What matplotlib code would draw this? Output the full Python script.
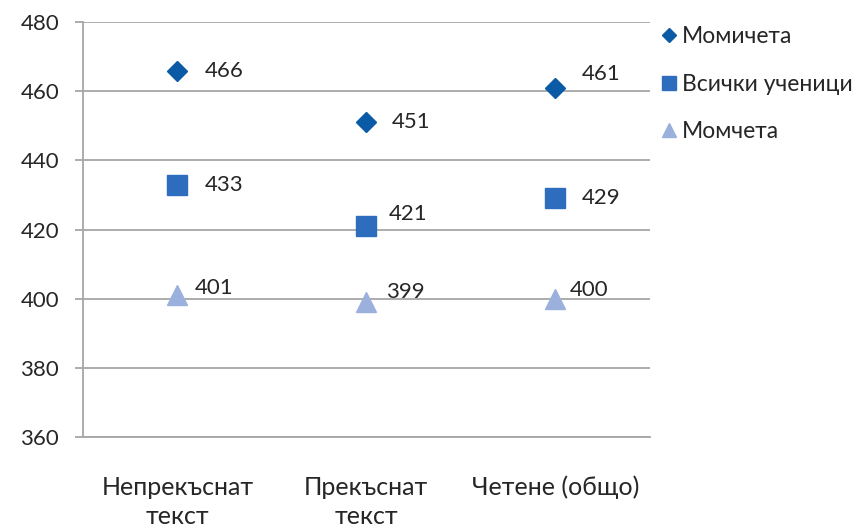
import matplotlib.pyplot as plt

# Данни
categories = ["Непрекъснат\nтекст", "Прекъснат\nтекст", "Четене (общо)"]
girls = [466, 451, 461]
all_students = [433, 421, 429]
boys = [401, 399, 400]

plt.rcParams["font.family"] = ["Lato", "DejaVu Sans"]
text_color = "#262626"
grid_color = "#a6a6a6"

fig = plt.figure(figsize=(8.63, 5.29), dpi=100)
ax = fig.add_axes([0.096, 0.174, 0.657, 0.784])

x = list(range(len(categories)))
ax.plot(x, girls, "D", color="#0b5aa6", ms=10.5, label="Момичета", zorder=3)
ax.plot(x, all_students, "s", color="#2e6cbd", ms=14.5, label="Всички ученици", zorder=3)
ax.plot(x, boys, "^", color="#9bb0dc", ms=15, label="Момчета", zorder=3)

# отместване на етикетите (пиксели)
offsets = {
    "girls": [(27, 0), (25, 0), (26, 14)],
    "all": [(27, 0), (22, 12), (26, 0)],
    "boys": [(17, 7), (20, 10), (14, 9)],
}
for key, vals in (("girls", girls), ("all", all_students), ("boys", boys)):
    for i, v in enumerate(vals):
        ax.annotate(str(v), (i, v), xytext=offsets[key][i], textcoords="offset pixels",
                    ha="left", va="center", fontsize=16, color=text_color)

ax.set_xlim(-0.5, 2.5)
ax.set_ylim(360, 480)
ax.set_yticks(range(360, 481, 20))
ax.set_xticks(x)
ax.set_xticklabels(categories, fontsize=18, color=text_color, linespacing=1.3)
ax.tick_params(axis="x", length=0, pad=28)
ax.tick_params(axis="y", length=6, width=1.3, color=grid_color, pad=11,
               labelsize=16, labelcolor=text_color)

ax.grid(axis="y", color=grid_color, linewidth=1.3, zorder=0)
ax.set_axisbelow(True)
for s in ("top", "right"):
    ax.spines[s].set_visible(False)
for s in ("left", "bottom"):
    ax.spines[s].set_color(grid_color)
    ax.spines[s].set_linewidth(1.3)

ax.legend(loc="upper left", bbox_to_anchor=(0.982, 1.04), frameon=False, fontsize=16.5,
          markerscale=0.7, handlelength=0.8, handletextpad=0.15, labelspacing=1.15,
          labelcolor=text_color, numpoints=1)

fig.savefig("out.png", dpi=100)
